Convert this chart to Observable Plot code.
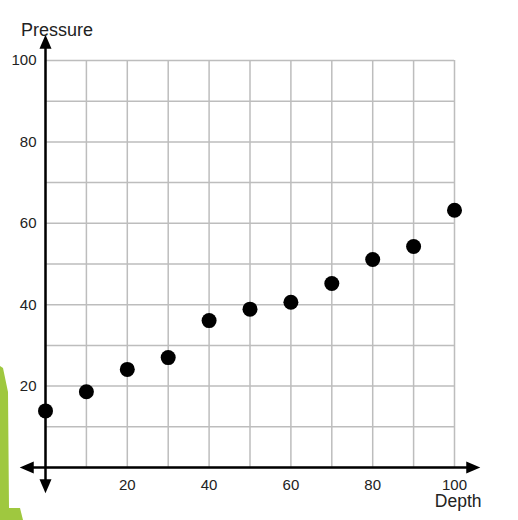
<!DOCTYPE html>
<html>
<head>
<meta charset="utf-8">
<script src="https://cdn.jsdelivr.net/npm/d3@7"></script>
<script src="https://cdn.jsdelivr.net/npm/@observablehq/plot@0.6"></script>
<style>
  html, body { margin: 0; padding: 0; background: #fff; }
  #wrap { position: relative; width: 518px; height: 520px; overflow: hidden; }
  #deco { position: absolute; left: 0; top: 0; pointer-events: none; }
</style>
</head>
<body>
<div id="wrap">
  <div id="chart"></div>
  <svg id="deco" width="518" height="520">
    <path d="M0,366 L3,368 L8,392 L9,508 L20,508 L23,520 L0,520 Z" fill="#9fc83f"/>
  </svg>
</div>
<script>
// Data
const depth = [0, 10, 20, 30, 40, 50, 60, 70, 80, 90, 100];
const pressure = [13.9, 18.6, 24.1, 27.0, 36.1, 38.9, 40.6, 45.2, 51.1, 54.3, 63.2];
const xTickLabels = [20, 40, 60, 80, 100];
const yTickLabels = [20, 40, 60, 80, 100];
const gridValues = [0, 10, 20, 30, 40, 50, 60, 70, 80, 90, 100];
const xTitle = "Depth";
const yTitle = "Pressure";

const axisMin = -6.3, axisMax = 106.3;
const points = depth.map((d, i) => ({depth: d, pressure: pressure[i]}));
const arrowTips = [
  {x: axisMin, y: 0, rotate: -90},
  {x: axisMax, y: 0, rotate: 90},
  {x: 0, y: axisMax, rotate: 0},
  {x: 0, y: axisMin, rotate: 180}
];
const arrowSymbol = {
  draw(ctx, size) {
    const r = Math.sqrt(size / Math.PI);
    const L = 2 * r, w = 0.43 * L;
    ctx.moveTo(0, 0);
    ctx.lineTo(-w, L);
    ctx.lineTo(w, L);
    ctx.closePath();
  }
};

const font = "'Liberation Sans', Arial, sans-serif";
const chart = Plot.plot({
  width: 518,
  height: 520,
  marginLeft: 45,
  marginRight: 64,
  marginTop: 60,
  marginBottom: 53,
  style: {fontFamily: font, background: "transparent"},
  x: {domain: [0, 100], axis: null},
  y: {domain: [0, 100], axis: null},
  marks: [
    Plot.gridX(gridValues, {stroke: "#bdbdbd", strokeOpacity: 1, strokeWidth: 1.5}),
    Plot.gridY(gridValues, {stroke: "#bdbdbd", strokeOpacity: 1, strokeWidth: 1.5}),
    Plot.ruleY([0], {x1: axisMin + 1, x2: axisMax - 1, stroke: "#000", strokeWidth: 2.5}),
    Plot.ruleX([0], {y1: axisMin + 1, y2: axisMax - 1, stroke: "#000", strokeWidth: 2.5}),
    Plot.dot(arrowTips, {x: "x", y: "y", rotate: "rotate", symbol: arrowSymbol, r: 7, fill: "#000", stroke: "none"}),
    Plot.axisX(xTickLabels, {tickSize: 0, tickPadding: 12, fontSize: 15, color: "#222", label: null}),
    Plot.axisY(yTickLabels, {tickSize: 0, tickPadding: 9, fontSize: 15, color: "#222", label: null}),
    Plot.text([yTitle], {x: 0, y: 100, text: d => d, textAnchor: "start", lineAnchor: "bottom", dx: -24.5, dy: -25, fontSize: 18, fill: "#222"}),
    Plot.text([xTitle], {x: 100, y: 0, text: d => d, textAnchor: "end", lineAnchor: "bottom", dx: 27, dy: 39.5, fontSize: 17.5, fill: "#222"}),
    Plot.dot(points, {x: "depth", y: "pressure", r: 7.5, fill: "#000", stroke: "none"})
  ]
});
document.getElementById("chart").appendChild(chart);
</script>
</body>
</html>
